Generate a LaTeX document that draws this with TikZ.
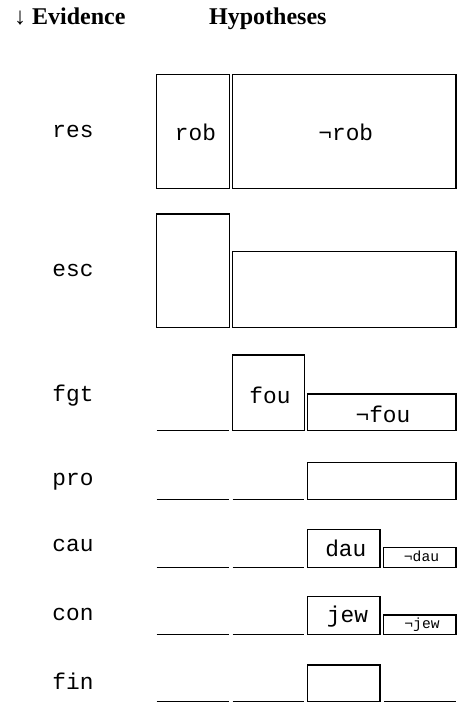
\documentclass[tikz,border=0pt]{standalone}
\usepackage{fontspec}
\setmainfont{Liberation Serif}
\setmonofont{Liberation Mono}
\begin{document}
\begin{tikzpicture}[x=1pt,y=-1pt]
\tikzset{
  hbox/.style={draw, line width=1.3pt, inner sep=0pt, outer sep=0pt, anchor=north west},
  evlabel/.style={font=\ttfamily\fontsize{22.8}{22.8}\selectfont, inner sep=0pt, anchor=base},
  hyptext/.style={font=\ttfamily\fontsize{22.8}{22.8}\selectfont, inner sep=0pt, anchor=base},
  smalltext/.style={font=\ttfamily\fontsize{14.6}{14.6}\selectfont, inner sep=0pt, anchor=base},
  headtext/.style={font=\bfseries\fontsize{24}{24}\selectfont, inner sep=0pt, anchor=base west},
  baseln/.style={line width=1.3pt}
}
\path[use as bounding box] (0,0) rectangle (457,704);

% headings
\node[headtext] (hev) at (14,24) {↓ Evidence};
\node[headtext] (hhyp) at (209,24) {Hypotheses};

% evidence labels
\node[evlabel] (lres) at (73,137) {res};
\node[evlabel] (lesc) at (73,276.7) {esc};
\node[evlabel] (lfgt) at (73,401) {fgt};
\node[evlabel] (lpro) at (73,485) {pro};
\node[evlabel] (lcau) at (73,551.7) {cau};
\node[evlabel] (lcon) at (73,620) {con};
\node[evlabel] (lfin) at (73,689) {fin};

% row res
\node[hbox, minimum width=72.6pt, minimum height=114pt] (rob) at (156.7,74.3) {};
\node[hbox, minimum width=223.7pt, minimum height=114pt] (nrob) at (232.3,74.3) {};
\node[hyptext] (trob) at (195.5,140) {rob};
\node[hyptext] (tnrob) at (345.8,140) {¬rob};

% row esc
\node[hbox, minimum width=72.6pt, minimum height=113.7pt] (escA) at (156.7,214) {};
\node[hbox, minimum width=223.7pt, minimum height=76pt] (escB) at (232.3,251.7) {};

% row fgt
\draw[baseln] (156.7,430.7) -- (228.7,430.7);
\node[hbox, minimum width=72.4pt, minimum height=75.7pt] (fou) at (232.3,355) {};
\node[hbox, minimum width=148.3pt, minimum height=36.7pt] (nfou) at (307.7,394) {};
\node[hyptext] (tfou) at (270,403.3) {fou};
\node[hyptext] (tnfou) at (383,422.3) {¬fou};

% row pro
\draw[baseln] (156.7,499.3) -- (228.7,499.3);
\draw[baseln] (232.7,499.3) -- (304.3,499.3);
\node[hbox, minimum width=148.3pt, minimum height=37pt] (pro) at (307.7,462.3) {};

% row cau
\draw[baseln] (156.7,567.3) -- (228.7,567.3);
\draw[baseln] (232.7,567.3) -- (304.3,567.3);
\node[hbox, minimum width=72.3pt, minimum height=38pt] (dau) at (307.7,529.3) {};
\node[hbox, minimum width=72.3pt, minimum height=19.6pt] (ndau) at (383.7,547.7) {};
\node[hyptext] (tdau) at (345.8,556.7) {dau};
\node[smalltext] (tndau) at (421.5,561.7) {¬dau};

% row con
\draw[baseln] (156.7,634.3) -- (228.7,634.3);
\draw[baseln] (232.7,634.3) -- (304.3,634.3);
\node[hbox, minimum width=72.3pt, minimum height=37.6pt] (jew) at (307.7,596.7) {};
\node[hbox, minimum width=72.3pt, minimum height=19.3pt] (njew) at (383.7,615) {};
\node[hyptext] (tjew) at (347.5,622) {jew};
\node[smalltext] (tnjew) at (422,628.5) {¬jew};

% row fin
\draw[baseln] (156.7,701.7) -- (228.7,701.7);
\draw[baseln] (232.7,701.7) -- (304.3,701.7);
\node[hbox, minimum width=72.3pt, minimum height=36.7pt] (fin) at (307.7,665) {};
\draw[baseln] (384.3,701.7) -- (456,701.7);
\end{tikzpicture}
\end{document}
